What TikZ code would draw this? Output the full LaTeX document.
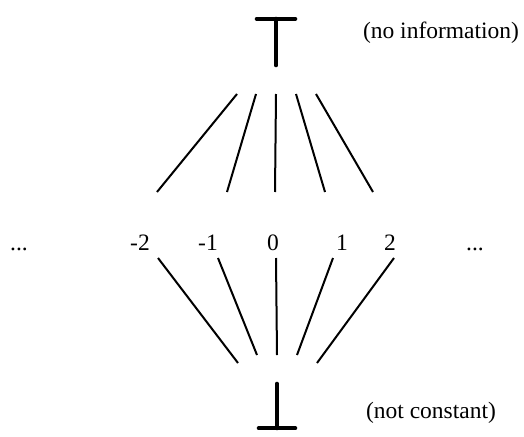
\documentclass[tikz,border=0pt]{standalone}
\usepackage{fontspec}
\setmainfont{Liberation Serif}
\begin{document}
\begin{tikzpicture}[x=1pt, y=-1pt,
    every node/.style={font=\fontsize{23.5}{28}\selectfont},
    num/.style={anchor=base},
    elem/.style={inner sep=0pt, minimum width=38pt},
    edge/.style={line width=2pt},
    sym/.style={line width=4.2pt, line cap=round}]
\useasboundingbox (0,0) rectangle (524,436);
% top and bottom of the lattice
\node[elem, minimum height=46pt] (top) at (276,42) {};
\draw[sym] (top.north west) -- (top.north east) (top.north) -- (top.south);
\node[elem, minimum width=36pt, minimum height=44pt] (bot) at (277,406) {};
\draw[sym] (bot.south west) -- (bot.south east) (bot.south) -- (bot.north);
\node (topnote) at (441,33) {(no information)};
\node (botnote) at (431,413) {(not constant)};
% the integers
\node[num] (ldots) at (19,250) {...};
\node[num] (m2) at (140,250) {-2};
\node[num] (m1) at (208,250) {-1};
\node[num] (z) at (273,250) {0};
\node[num] (p1) at (342,250) {1};
\node[num] (p2) at (390,250) {2};
\node[num] (rdots) at (475,250) {...};
% upper edges
\foreach \xa/\xb [count=\i] in {237/157, 256/227, 276/275, 296/325, 316/373} {
    \coordinate (ua\i) at (\xa,94);
    \coordinate (ub\i) at (\xb,192);
    \draw[edge] (ua\i) -- (ub\i);
}
% lower edges
\foreach \xa/\xb/\yb [count=\i] in {158/238/363, 218/257/355, 276/277/355, 333/297/355, 394/317/363} {
    \coordinate (la\i) at (\xa,258);
    \coordinate (lb\i) at (\xb,\yb);
    \draw[edge] (la\i) -- (lb\i);
}
\end{tikzpicture}
\end{document}
